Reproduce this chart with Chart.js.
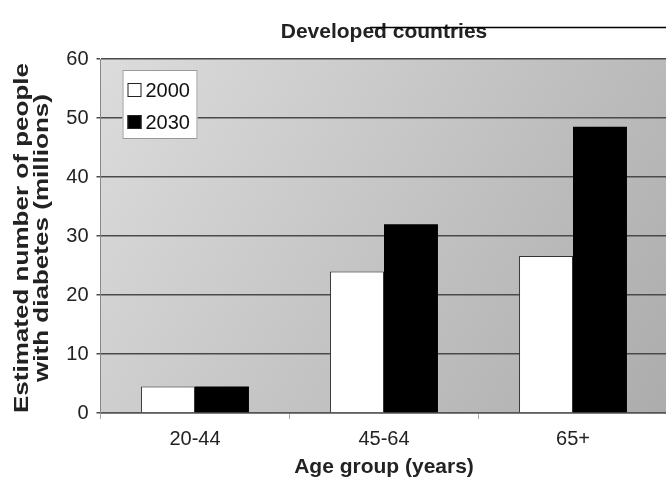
<!DOCTYPE html>
<html>
<head>
<meta charset="utf-8">
<script src="https://cdn.jsdelivr.net/npm/chart.js@4/dist/chart.umd.min.js"></script>
<style>
  html, body { margin: 0; padding: 0; background: #fff; overflow: hidden; }
  #wrap { width: 700px; height: 487px; }
</style>
</head>
<body>
<div id="wrap"><canvas id="c" width="700" height="487"></canvas></div>
<script>
// Estimated number of people with diabetes (millions), developed countries
const ageGroups = ['20-44', '45-64', '65+'];
const seriesLabels = ['2000', '2030'];
const people2000 = [4.5, 24, 26.6];
const people2030 = [4.5, 32, 48.5];
const yTickValues = [0, 10, 20, 30, 40, 50, 60];
const yTitleLines = ['Estimated number of people', 'with diabetes (millions)'];

const sans = '"Liberation Sans", Arial, sans-serif';

// shaded plot background, lighter on the left
const plotBackground = {
  id: 'plotBackground',
  beforeDraw(chart) {
    const { ctx, chartArea: a } = chart;
    const g = ctx.createLinearGradient(a.left, a.top, a.right, a.bottom);
    g.addColorStop(0, '#dcdcdc');
    g.addColorStop(1, '#acacac');
    ctx.save();
    ctx.fillStyle = g;
    ctx.fillRect(a.left, a.top, a.right - a.left, a.bottom - a.top);
    ctx.restore();
  }
};

// tall, stretched two-line title for the value axis
const stretchedYTitle = {
  id: 'stretchedYTitle',
  afterDraw(chart) {
    const { ctx, chartArea: a } = chart;
    const cy = (a.top + a.bottom) / 2 + 2;
    ctx.save();
    ctx.fillStyle = '#222';
    ctx.font = 'bold 21px ' + sans;
    ctx.textAlign = 'center';
    ctx.textBaseline = 'middle';
    yTitleLines.forEach((line, i) => {
      ctx.save();
      ctx.translate(22 + i * 20.5, cy);
      ctx.rotate(-Math.PI / 2);
      ctx.scale(1.24, 1);
      ctx.fillText(line, 0, 0);
      ctx.restore();
    });
    ctx.restore();
  }
};

// boxed legend sitting inside the plot, top-left
const insetLegend = {
  id: 'insetLegend',
  afterDatasetsDraw(chart) {
    const { ctx, chartArea: a } = chart;
    const x = a.left + 22, y = a.top + 11, w = 75, h = 69;
    ctx.save();
    ctx.fillStyle = '#fff';
    ctx.fillRect(x, y, w, h);
    ctx.strokeStyle = '#999';
    ctx.lineWidth = 1;
    ctx.strokeRect(x + 0.5, y + 0.5, w - 1, h - 1);
    ctx.font = '20px ' + sans;
    ctx.textBaseline = 'middle';
    chart.data.datasets.forEach((ds, i) => {
      const cy = y + 20 + i * 32;
      ctx.fillStyle = ds.backgroundColor;
      ctx.fillRect(x + 5, cy - 7, 14, 14);
      ctx.strokeStyle = '#222';
      ctx.strokeRect(x + 5.5, cy - 6.5, 13, 13);
      ctx.fillStyle = '#111';
      ctx.fillText(ds.label, x + 23, cy + 1);
    });
    ctx.restore();
  }
};

// page rule running across the top
const pageRule = {
  id: 'pageRule',
  afterDraw(chart) {
    const { ctx } = chart;
    ctx.save();
    ctx.strokeStyle = '#000';
    ctx.lineWidth = 1.5;
    ctx.beginPath();
    ctx.moveTo(370, 27.5);
    ctx.lineTo(chart.width, 27.5);
    ctx.stroke();
    ctx.restore();
  }
};

new Chart(document.getElementById('c'), {
  type: 'bar',
  data: {
    labels: ageGroups,
    datasets: [
      { label: seriesLabels[0], data: people2000, backgroundColor: '#ffffff', borderColor: '#333', borderWidth: 1 },
      { label: seriesLabels[1], data: people2030, backgroundColor: '#000000', borderColor: '#000', borderWidth: 0 }
    ]
  },
  options: {
    responsive: false,
    animation: false,
    layout: { padding: { left: 0, right: 32.5, top: 0, bottom: 0 } },
    datasets: { bar: { categoryPercentage: 0.571, barPercentage: 1 } },
    plugins: {
      legend: { display: false },
      tooltip: { enabled: false },
      title: {
        display: true,
        fullSize: false,
        text: 'Developed countries',
        color: '#222',
        font: { family: sans, size: 21, weight: 'bold' },
        padding: { top: 19.5, bottom: 14.3 }
      }
    },
    scales: {
      x: {
        grid: { display: true, drawOnChartArea: false, drawTicks: true, tickLength: 6, color: '#aaa', offset: true },
        border: { display: true, color: '#555', width: 1.5 },
        ticks: { color: '#222', font: { family: sans, size: 20 }, padding: 8 },
        title: {
          display: true, text: 'Age group (years)', color: '#222',
          font: { family: sans, size: 21, weight: 'bold' },
          padding: { top: 0, bottom: 7 }
        },
        afterFit(s) { s.height = 74; }
      },
      y: {
        min: 0, max: 60,
        afterBuildTicks(s) { s.ticks = yTickValues.map(v => ({ value: v })); },
        grid: { color: '#4a4a4a', lineWidth: 1.5, tickLength: 4 },
        border: { display: true, color: '#888' },
        ticks: { color: '#222', font: { family: sans, size: 20 }, padding: 8 },
        title: { display: false },
        afterFit(s) { s.width = 100.5; }
      }
    }
  },
  plugins: [plotBackground, insetLegend, stretchedYTitle, pageRule]
});
</script>
</body>
</html>
